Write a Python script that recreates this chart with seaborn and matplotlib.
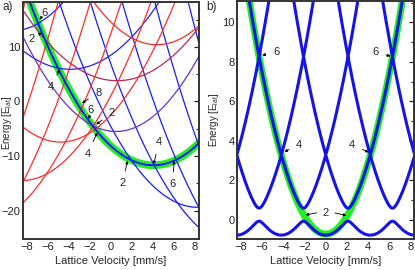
import numpy as np
import pandas as pd
import matplotlib
matplotlib.use("Agg")
import matplotlib.pyplot as plt
import seaborn as sns
from matplotlib.ticker import MultipleLocator

sns.set_theme(style="white")
plt.rcParams['font.family'] = ['Liberation Sans', 'DejaVu Sans']

# ---------------- data ----------------
# panel a: parabolas  E = curv*(v - center)^2 + minimum
a_names   = ["g0", "b1", "b2", "b3", "b4", "b5", "bd", "bb", "pe",
             "rt", "rm", "rl", "r3", "r4", "r5", "r6", "r7", "r8", "rx"]
a_centers = [4.06, 8.3, 12.5, 16.7, 20.9, 25.1, -3.9, -9.5, 0.5,
             4.4, 0.6, -4.8, -8.5, -12.8, -17.1, -21.4, -25.7, -30.0, 8.7]
a_minima  = [-11.7, -19.4, -26.7, -34.2, -41.7, -49.2, 5.9, 12.9, -5.5,
             10.4, 3.8, -7.45, -14.5, -22.8, -31.1, -39.4, -47.7, -56.0, 18.4]
a_curv    = [0.215, 0.215, 0.215, 0.215, 0.215, 0.215, 0.17, 0.215, 0.22,
             0.215, 0.16, 0.215, 0.215, 0.215, 0.215, 0.215, 0.215, 0.215, 0.215]
a_colors  = ["#1a1aff", "#1a1aff", "#1a1aff", "#1a1aff", "#1a1aff", "#1a1aff",
             "#2222f0", "#1a1aff", "#6a30c8",
             "#ff2a2a", "#b02a5a", "#ff2a2a", "#ff2a2a", "#ff2a2a", "#ff2a2a",
             "#ff2a2a", "#ff2a2a", "#ff2a2a", "#ff2a2a"]

# panel b: lattice bands (central equation)
b_centers = [-16.8, -12.6, -8.4, -4.2, 0.0, 4.2, 8.4, 12.6, 16.8]
b_curv = 0.226
b_offset = -0.72
b_coupling = 0.33

# annotations: (label, text v, text E, arrow v, arrow E)
ann_a = [("6", -6.3, 16.2, -6.8, 15.0), ("2", -7.6, 11.4, -6.6, 12.6),
         ("4", -5.7, 2.6, -4.9, 5.8), ("8", -1.2, 1.6, -2.75, -0.3),
         ("6", -1.9, -1.6, -2.1, -3.2), ("2", 0.1, -2.2, -1.4, -4.2),
         ("4", -2.2, -9.6, -1.3, -5.7), ("2", 1.1, -15.0, 1.6, -10.9),
         ("4", 4.6, -7.4, 4.1, -11.5), ("6", 5.9, -15.2, 6.05, -10.9)]
ann_b = [("6", -4.7, 8.5, -6.0, 8.33), ("6", 4.7, 8.5, 6.1, 8.28),
         ("4", -2.5, 3.8, -3.9, 3.45), ("4", 2.5, 3.8, 4.05, 3.42)]

# ---------------- build tables ----------------
v = np.linspace(-8.6, 8.6, 700)
rows = []
for n, c, d, k in zip(a_names, a_centers, a_minima, a_curv):
    rows.append(pd.DataFrame({"v": v, "E": k * (v - c) ** 2 + d, "curve": n}))
dfa = pd.concat(rows, ignore_index=True)
dfa = dfa[(dfa.E > -27) & (dfa.E < 20)]
pal_a = dict(zip(a_names, a_colors))

nb = len(b_centers)
H = np.zeros((len(v), nb, nb))
for i, c in enumerate(b_centers):
    H[:, i, i] = b_curv * (v - c) ** 2 + b_offset
    if i + 1 < nb:
        H[:, i, i + 1] = b_coupling
        H[:, i + 1, i] = b_coupling
ev = np.linalg.eigvalsh(H)
dfb = pd.concat([pd.DataFrame({"v": v, "E": ev[:, i], "band": str(i)}) for i in range(nb)],
                ignore_index=True)
dfb = dfb[dfb.E < 12]
dfg = pd.DataFrame({"v": v, "E": b_curv * v ** 2 + b_offset})
dfg = dfg[dfg.E < 11.2]

# ---------------- figure ----------------
fig = plt.figure(figsize=(4.15, 2.7), dpi=100)
axa = fig.add_axes([0.055, 0.115, 0.424, 0.879])
axb = fig.add_axes([0.572, 0.114, 0.426, 0.884])

# panel a
g0 = dfa[dfa.curve == "g0"]
sns.lineplot(data=g0, x="v", y="E", ax=axa, color="#22ee22", lw=5.5, sort=False,
             estimator=None)
sns.lineplot(data=dfa, x="v", y="E", hue="curve", palette=pal_a, ax=axa, lw=0.9,
             sort=False, estimator=None, legend=False, units="curve")
sns.lineplot(data=g0, x="v", y="E", ax=axa, color="#1a1aff", lw=1.3, sort=False,
             estimator=None)
axa.set_xlim(-8.4, 8.4)
axa.set_ylim(-25.2, 18.3)

# panel b
sns.lineplot(data=dfg, x="v", y="E", ax=axb, color="#22ee22", lw=5.0, sort=False,
             estimator=None)
sns.lineplot(data=dfb, x="v", y="E", hue="band", palette=["#1414e6"] * nb, ax=axb,
             lw=2.2, sort=False, estimator=None, legend=False, units="band")
axb.set_xlim(-8.35, 8.35)
axb.set_ylim(-0.98, 11.1)

fs = 8
for ax, yl in ((axa, (10, 5)), (axb, (2, 1))):
    ax.xaxis.set_major_locator(MultipleLocator(2))
    ax.xaxis.set_minor_locator(MultipleLocator(1))
    ax.yaxis.set_major_locator(MultipleLocator(yl[0]))
    ax.yaxis.set_minor_locator(MultipleLocator(yl[1]))
    ax.tick_params(which="both", direction="in", top=True, right=True,
                   labelsize=fs, pad=2, colors="#222222")
    ax.tick_params(which="major", length=3.5, width=0.9)
    ax.tick_params(which="minor", length=2, width=0.8)
    ax.tick_params(axis="x", which="both", top=False)
    for s in ax.spines.values():
        s.set_linewidth(1.4)
        s.set_color("#333333")
    ax.set_xlabel("Lattice Velocity [mm/s]", fontsize=fs, labelpad=3)
    ax.set_ylabel("Energy [E$_{\\mathregular{lat}}$]", fontsize=7, labelpad=1)
axa.yaxis.set_label_coords(-0.052, 0.49)

for ax, anns in ((axa, ann_a), (axb, ann_b)):
    for lab, tx, ty, ax_, ay in anns:
        ax.annotate(lab, xy=(ax_, ay), xytext=(tx, ty), fontsize=fs,
                    ha="center", va="center",
                    arrowprops=dict(arrowstyle="-|>", lw=0.6, color="black",
                                    mutation_scale=4, shrinkA=3, shrinkB=0))
axb.text(0.0, 0.35, "2", fontsize=fs, ha="center", va="center")
for tgt in ((-1.9, 0.25), (1.95, 0.22)):
    axb.annotate("", xy=tgt, xytext=(-0.6 if tgt[0] < 0 else 0.6, 0.38),
                 arrowprops=dict(arrowstyle="-|>", lw=0.6, color="black",
                                 mutation_scale=4, shrinkA=2, shrinkB=0))

fig.text(0.005, 0.975, "a)", fontsize=8.5, va="center")
fig.text(0.498, 0.975, "b)", fontsize=8.5, va="center")

fig.savefig("out.png", dpi=100)
